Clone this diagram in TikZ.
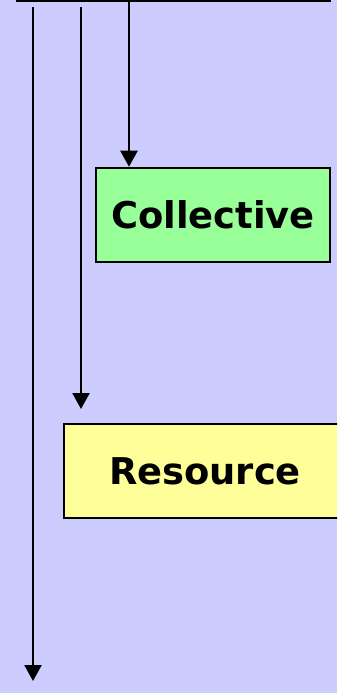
\documentclass[tikz,border=0pt]{standalone}
\usepackage{fontspec}
\setmainfont{DejaVu Sans}
\usetikzlibrary{arrows.meta}
\definecolor{bgblue}{HTML}{CCCCFF}
\definecolor{boxgreen}{HTML}{99FF99}
\definecolor{boxyellow}{HTML}{FFFF99}
\tikzset{
  layerbox/.style={draw=black, line width=2.5bp, minimum height=94bp, inner sep=0pt,
    font=\fontsize{37}{42}\selectfont\bfseries},
  flow/.style={line width=2.5bp, -{Triangle[width=17bp,length=16bp]}},
}
\begin{document}
\begin{tikzpicture}[x=1bp,y=-1bp]
  % canvas
  \fill[bgblue] (0,0) rectangle (337,693);
  \useasboundingbox (0,0) rectangle (337,693);
  \begin{scope}
    \clip (0,0) rectangle (337,693);
    % top bar
    \draw[line width=5bp] (16,0) -- (331,0);
    % layer boxes
    \node[layerbox, fill=boxgreen, minimum width=234bp] (coll) at (213,215) {Collective};
    \node[layerbox, fill=boxyellow, minimum width=280bp, text width=280bp, align=center] (res) at (204,471) {\hspace*{2bp}Resource};
    % arrow anchors
    \coordinate (a1) at (33,7);
    \coordinate (a2) at (81,7);
    \coordinate (a3) at (129,0);
    \coordinate (e1) at (33,681);
    \coordinate (e2) at (81,409);
    % arrows
    \draw[flow] (a1) -- (e1);
    \draw[flow] (a2) -- (e2);
    \draw[flow] (a3) -- (a3 |- coll.north);
  \end{scope}
\end{tikzpicture}
\end{document}
